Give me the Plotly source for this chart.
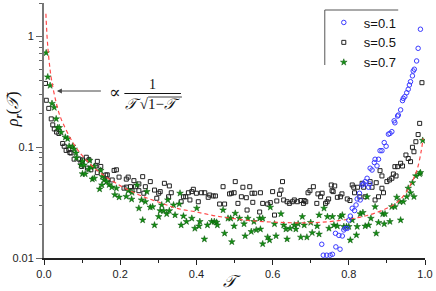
import plotly.graph_objects as go

# ---------------- data ----------------
s01 = [(0.729,0.0133),(0.733,0.0106),(0.742,0.0106),(0.751,0.0106),(0.757,0.0108),(0.765,0.0167),
       (0.766,0.0126),(0.774,0.0160),(0.777,0.0120),(0.783,0.0158),(0.787,0.0179),(0.791,0.0185),
       (0.796,0.0185),(0.800,0.0220),(0.804,0.0239),(0.809,0.0281),(0.815,0.0268),(0.819,0.0301),
       (0.822,0.0341),(0.828,0.0384),(0.830,0.0334),(0.835,0.0456),(0.839,0.0466),(0.843,0.0489),
       (0.848,0.0524),(0.852,0.0435),(0.855,0.0466),(0.856,0.0646),(0.861,0.0622),(0.867,0.0726),
       (0.869,0.0778),(0.874,0.0678),(0.878,0.0778),(0.882,0.093),(0.887,0.093),(0.893,0.110),
       (0.898,0.102),(0.904,0.131),(0.908,0.133),(0.913,0.138),(0.919,0.173),(0.921,0.166),
       (0.928,0.191),(0.930,0.195),(0.936,0.217),(0.941,0.263),(0.943,0.276),(0.947,0.286),
       (0.952,0.310),(0.956,0.333),(0.959,0.364),(0.962,0.390),(0.967,0.440),(0.969,0.487),
       (0.972,0.505),(0.978,0.600),(0.982,0.780),(0.988,1.160)]

s05 = [(0.004,0.376),(0.006,0.265),(0.0125,0.224),(0.019,0.18),(0.023,0.159),(0.027,0.146),
       (0.033,0.137),(0.039,0.133),(0.049,0.108),(0.053,0.102),(0.058,0.0935),(0.065,0.095),
       (0.068,0.0893),(0.071,0.0886),(0.079,0.078),(0.092,0.078),(0.097,0.072),(0.099,0.067),
       (0.101,0.0767),(0.111,0.0811),(0.114,0.0648),(0.118,0.077),(0.123,0.0625),(0.136,0.0677),
       (0.14,0.0745),(0.14,0.0589),(0.149,0.067),(0.162,0.0561),(0.166,0.0563),(0.166,0.0508),
       (0.179,0.0506),(0.184,0.0617),(0.19,0.0625),(0.197,0.0537),(0.21,0.0427),(0.216,0.0515),
       (0.216,0.0436),(0.221,0.0537),
       (0.227,0.044),(0.231,0.0405),(0.236,0.0499),(0.24,0.044),(0.249,0.0405),(0.249,0.0466),
       (0.259,0.0542),(0.262,0.0384),(0.266,0.044),(0.279,0.0489),(0.29,0.041),(0.296,0.0346),
       (0.301,0.0384),(0.305,0.0397),(0.316,0.0472),(0.327,0.0357),(0.329,0.0447),(0.334,0.0388),
       (0.36,0.0322),(0.366,0.0357),(0.372,0.0357),(0.379,0.0388),(0.383,0.0334),(0.388,0.0397),
       (0.392,0.0417),(0.40,0.0384),(0.405,0.0322),(0.413,0.0388),(0.422,0.0388),(0.431,0.0353),
       (0.435,0.037),(0.444,0.0363),(0.45,0.0363),(0.461,0.0307),(0.47,0.044),(0.474,0.0307),
       (0.487,0.0379),
       (0.492,0.0384),(0.499,0.0388),(0.502,0.0489),(0.509,0.0311),(0.518,0.0357),(0.522,0.0435),
       (0.531,0.035),(0.533,0.0271),(0.54,0.044),(0.546,0.0384),(0.548,0.0318),(0.553,0.0384),
       (0.566,0.026),(0.568,0.0388),(0.574,0.0311),(0.587,0.0307),(0.594,0.0316),(0.60,0.0397),
       (0.605,0.0244),(0.611,0.0327),(0.618,0.0376),(0.622,0.041),(0.626,0.0489),(0.629,0.0334),
       (0.638,0.0322),(0.644,0.0311),(0.652,0.0322),(0.657,0.0334),(0.665,0.0322),(0.674,0.033),
       (0.681,0.0311),(0.683,0.033),(0.687,0.0322),(0.693,0.0388),(0.698,0.0405),(0.707,0.044),
       (0.716,0.0311),(0.719,0.0379),(0.726,0.0357),(0.73,0.0384),(0.739,0.0311),(0.743,0.0322),
       (0.754,0.0456),(0.759,0.0397),(0.763,0.0447),
       (0.747,0.0341),(0.756,0.0405),(0.77,0.0353),(0.778,0.0357),(0.782,0.0379),(0.796,0.0341),
       (0.803,0.033),(0.809,0.0456),(0.813,0.0435),(0.815,0.0388),(0.823,0.0435),(0.829,0.0357),
       (0.835,0.0472),(0.839,0.0435),(0.843,0.0357),(0.856,0.0489),(0.861,0.0435),(0.869,0.0334),
       (0.872,0.0478),(0.878,0.0357),(0.882,0.0614),(0.887,0.055),(0.887,0.0426),(0.891,0.0388),
       (0.90,0.0489),(0.907,0.0506),(0.913,0.0524),(0.917,0.0573),(0.921,0.0667),(0.924,0.055),
       (0.928,0.0667),(0.936,0.0716),(0.941,0.0676),(0.95,0.085),(0.956,0.079),(0.962,0.074),
       (0.967,0.0998),(0.971,0.091),(0.976,0.112),(0.982,0.13),(0.986,0.164),(0.992,0.382)]

s07 = [(0.0057,0.71),(0.0099,0.43),(0.016,0.36),(0.021,0.248),(0.027,0.228),(0.032,0.18),
       (0.036,0.15),(0.040,0.15),(0.045,0.136),(0.056,0.123),(0.062,0.119),(0.066,0.102),
       (0.075,0.102),(0.079,0.096),(0.084,0.0886),(0.085,0.08),(0.097,0.069),(0.101,0.0745),
       (0.101,0.0575),(0.105,0.069),(0.108,0.0573),(0.117,0.063),(0.12,0.076),(0.123,0.0659),
       (0.127,0.0515),(0.132,0.067),(0.132,0.0524),(0.146,0.0419),(0.149,0.0617),(0.152,0.0456),
       (0.153,0.0544),(0.158,0.0506),(0.164,0.0489),(0.171,0.0458),(0.178,0.0436),(0.186,0.0372),
       (0.19,0.0426),(0.197,0.0354),(0.216,0.0359),(0.221,0.0406),(0.231,0.039),
       (0.23,0.0339),(0.244,0.0456),(0.249,0.0281),(0.256,0.0334),(0.259,0.022),(0.266,0.0322),
       (0.27,0.0397),(0.279,0.0287),(0.285,0.029),(0.29,0.0198),(0.301,0.0236),(0.305,0.0267),
       (0.309,0.0301),(0.314,0.0267),(0.322,0.025),(0.325,0.0334),(0.329,0.0267),(0.34,0.0301),
       (0.344,0.0244),(0.355,0.0307),(0.357,0.0384),(0.36,0.0198),(0.366,0.0239),(0.374,0.0213),
       (0.388,0.0228),(0.396,0.0185),(0.401,0.0281),(0.407,0.0194),(0.409,0.0213),(0.421,0.0148),
       (0.429,0.0198),(0.44,0.0213),(0.447,0.0213),(0.453,0.021),(0.455,0.0198),(0.47,0.0271),
       (0.474,0.0167),(0.483,0.0228),
       (0.49,0.0228),(0.502,0.0253),(0.499,0.0194),(0.513,0.0228),(0.525,0.0203),(0.535,0.0228),
       (0.528,0.0158),(0.544,0.0173),(0.551,0.0213),(0.493,0.014),(0.557,0.0179),(0.568,0.0182),
       (0.566,0.0228),(0.574,0.0228),(0.587,0.0154),(0.592,0.0145),(0.574,0.0134),(0.594,0.0287),
       (0.605,0.0203),(0.622,0.025),(0.609,0.0158),(0.629,0.0198),(0.638,0.0148),(0.635,0.0182),
       (0.646,0.0185),(0.657,0.0198),(0.667,0.0203),(0.661,0.0182),
       (0.674,0.0154),(0.678,0.0236),(0.683,0.0198),(0.69,0.0154),(0.70,0.0209),(0.704,0.0169),
       (0.717,0.0194),(0.722,0.0244),(0.722,0.0164),(0.735,0.0281),(0.744,0.0236),
       (0.748,0.0185),(0.757,0.0236),(0.761,0.0198),(0.77,0.0194),(0.778,0.0236),(0.783,0.0244),
       (0.787,0.0192),(0.794,0.0192),(0.80,0.0192),(0.804,0.0145),(0.809,0.022),(0.82,0.0161),
       (0.822,0.0192),(0.83,0.025),(0.837,0.0257),(0.843,0.0194),(0.848,0.0357),(0.852,0.0198),
       (0.858,0.0228),(0.869,0.029),(0.872,0.0167),(0.878,0.0209),(0.889,0.025),(0.893,0.0203),
       (0.895,0.025),(0.908,0.0213),(0.913,0.029),(0.921,0.029),(0.926,0.0353),(0.934,0.0322),
       (0.936,0.022),(0.943,0.0322),(0.952,0.0357),(0.956,0.0426),(0.962,0.0388),(0.967,0.0478),
       (0.971,0.0357),(0.976,0.055),(0.986,0.0573),(0.988,0.0589),(0.994,0.115)]

fit = [(0.005,1.6),(0.008,1.0),(0.012,0.67),(0.016,0.50),(0.02,0.40),(0.03,0.27),(0.04,0.20),
       (0.05,0.164),(0.07,0.119),(0.09,0.093),(0.12,0.071),(0.15,0.058),(0.2,0.045),(0.25,0.037),
       (0.3,0.032),(0.35,0.028),(0.4,0.026),(0.45,0.024),(0.5,0.0226),(0.55,0.0216),(0.6,0.0211),
       (0.65,0.0208),(0.7,0.0208),(0.75,0.0213),(0.8,0.0224),(0.85,0.0243),(0.9,0.0281),
       (0.93,0.0325),(0.95,0.039),(0.97,0.052),(0.98,0.064),(0.99,0.092),(0.995,0.12)]

x_ticks = [0.0, 0.2, 0.4, 0.6, 0.8, 1.0]
x_ticktext = ["0.0", "0.2", "0.4", "0.6", "0.8", "1.0"]
x_minor = [0.1, 0.3, 0.5, 0.7, 0.9]
y_ticks = [0.01, 0.1, 1]
y_ticktext = ["0.01", "0.1", "1"]
y_minor = [0.02,0.03,0.04,0.05,0.06,0.07,0.08,0.09,0.2,0.3,0.4,0.5,0.6,0.7,0.8,0.9,2]

# ---------------- layout geometry ----------------
W, H = 436, 291
L, R, T, B = 44, 8, 3, 33
PW, PH = W - L - R, H - T - B
def px(x): return (x - L) / PW
def py(y): return (H - B - y) / PH

def unzip(pts):
    return [p[0] for p in pts], [p[1] for p in pts]

fig = go.Figure()
x5, y5 = unzip(s05)
fig.add_trace(go.Scatter(x=x5, y=y5, mode="markers", name="s=0.5", legendrank=2,
                         marker=dict(symbol="square-open", size=4, color="#222222", line=dict(width=1))))
x7, y7 = unzip(s07)
fig.add_trace(go.Scatter(x=x7, y=y7, mode="markers", name="s=0.7", legendrank=3,
                         marker=dict(symbol="star", size=5, color="#149014",
                                     line=dict(width=0.5, color="#0a550a"))))
xf, yf = unzip(fit)
fig.add_trace(go.Scatter(x=xf, y=yf, mode="lines", showlegend=False, line_shape="spline",
                         line=dict(color="#ff4a4a", width=1.2, dash="4px,3px")))
x1, y1 = unzip(s01)
fig.add_trace(go.Scatter(x=x1, y=y1, mode="markers", name="s=0.1", legendrank=1,
                         marker=dict(symbol="circle-open", size=4.5, color="#3a3aff", line=dict(width=1))))

tickfont = dict(family="Liberation Sans, Arial", size=11, color="#222")
fig.update_xaxes(range=[0, 1], tickvals=x_ticks, ticktext=x_ticktext, ticks="outside", ticklen=5,
                 tickcolor="#222", showline=True, linecolor="#222", linewidth=1.5, showgrid=False,
                 zeroline=False, tickfont=tickfont,
                 minor=dict(tickvals=x_minor, ticks="outside", ticklen=3, tickcolor="#222", showgrid=False))
fig.update_yaxes(type="log", range=[-2, 0.30103], tickvals=y_ticks, ticktext=y_ticktext,
                 ticks="outside", ticklen=6, tickcolor="#666", showline=True, linecolor="#777",
                 linewidth=2, showgrid=False, zeroline=False, tickfont=tickfont,
                 minor=dict(tickvals=y_minor, ticks="outside", ticklen=3, tickcolor="#666", showgrid=False))

serif = "Liberation Serif, DejaVu Serif, serif"
annotations = [
    dict(x=px(233), y=py(281), text="<i>𝒯</i>", font=dict(family=serif, size=17, color="#111")),
    dict(x=px(14), y=py(109), text="<i>ρ</i><sub><b><i>r</i></b></sub>(<i>𝒯</i>)", textangle=-90,
         font=dict(family=serif, size=16, color="#111")),
    dict(x=px(116), y=py(92), text="∝", font=dict(family=serif, size=17, color="#111")),
    dict(x=px(153.5), y=py(84), text="1", font=dict(family=serif, size=14, color="#111")),
    dict(x=px(153.5), y=py(104), text="<i>𝒯</i> √1−<i>𝒯</i>", font=dict(family=serif, size=15, color="#111")),
]
for a in annotations:
    a.update(xref="paper", yref="paper", showarrow=False, xanchor="center", yanchor="middle")
annotations.append(dict(xref="paper", yref="paper", x=px(57), y=py(91), ax=46, ay=0, text=" ",
                        showarrow=True, arrowhead=2, arrowsize=1, arrowwidth=1, arrowcolor="#444",
                        font=dict(size=2)))

shapes = [
    dict(type="line", xref="paper", yref="paper", x0=px(125), x1=px(182), y0=py(93.5), y1=py(93.5),
         line=dict(color="#111", width=1)),
    dict(type="line", xref="paper", yref="paper", x0=px(149), x1=px(183), y0=py(97), y1=py(97),
         line=dict(color="#111", width=0.8)),
    dict(type="line", xref="paper", yref="paper", x0=px(327), x1=px(401), y0=py(10), y1=py(10),
         line=dict(color="#555", width=1)),
    dict(type="line", xref="paper", yref="paper", x0=px(327), x1=px(327), y0=py(10), y1=py(65),
         line=dict(color="#555", width=1)),
]

fig.update_layout(
    width=W, height=H, margin=dict(l=L, r=R, t=T, b=B),
    paper_bgcolor="white", plot_bgcolor="white", hovermode=False,
    annotations=annotations, shapes=shapes,
    legend=dict(x=px(326), y=py(7.5), xanchor="left", yanchor="top", bgcolor="rgba(0,0,0,0)",
                font=dict(family="Liberation Sans, Arial", size=13, color="#111"),
                tracegroupgap=0, itemwidth=30),
)

fig.write_html("out.html", config={"displayModeBar": False, "staticPlot": True},
               post_script="document.body.style.margin='0';document.body.style.overflow='hidden';")
